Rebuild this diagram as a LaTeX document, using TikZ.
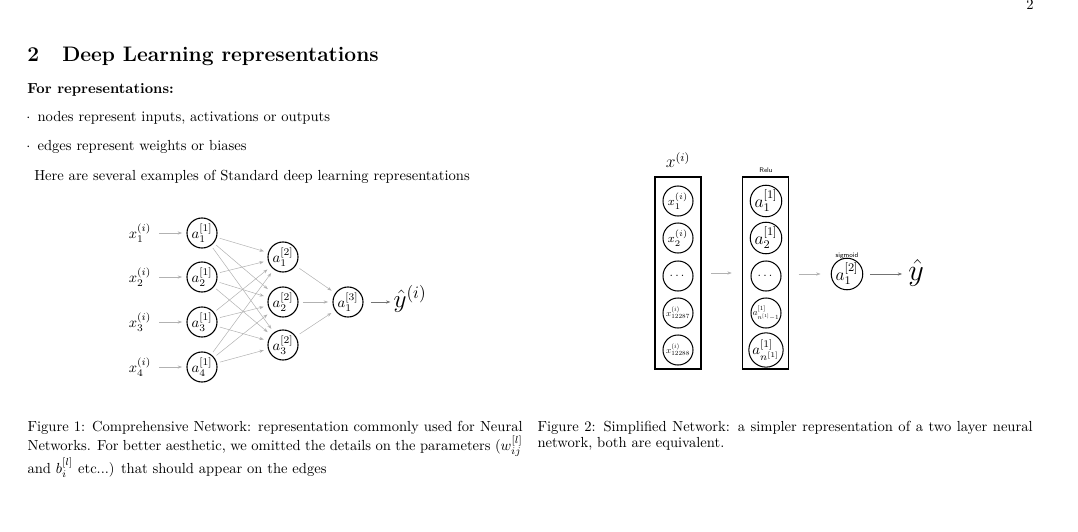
\documentclass[tikz,border=0pt]{standalone}
\usepackage{amsmath}
\usepackage{graphicx}
\usetikzlibrary{arrows.meta}
\begin{document}
\begin{tikzpicture}[x=0.686pt,y=-0.686pt,
  neuron/.style={circle,draw,line width=0.75pt,minimum size=20.6pt,inner sep=0pt,font=\normalsize},
  sneuron/.style={circle,draw,line width=0.7pt,minimum size=20.6pt,inner sep=0pt},
  edge/.style={-{Stealth[length=3pt,width=2.2pt]},draw=gray!60,line width=0.35pt},
  dedge/.style={-{Stealth[length=3pt,width=2.2pt]},draw=gray!90!black,line width=0.4pt},
  layerbox/.style={draw,line width=0.75pt,minimum width=31.6pt,minimum height=131.7pt,inner sep=0pt},
  txt/.style={anchor=base west,inner sep=0pt},
  tinylabel/.style={font=\sffamily\fontsize{4.6}{5}\selectfont,inner sep=0pt},
  caption/.style={anchor=north west,inner sep=0pt,text width=339.6pt,align=justify,font=\fontsize{10}{11}\selectfont}
]
\useasboundingbox (0,0) rectangle (1078,532);

% header text
\node[anchor=base,inner sep=0pt] (pg) at (1030,10) {2};
\node[txt,font=\Large\bfseries] (secnum) at (27,61.7) {2};
\node[txt,font=\Large\bfseries] (sec) at (62,61.7) {Deep Learning representations};
\node[txt,font=\bfseries] (for) at (27,93.3) {For representations:};
\node[txt] (bul1) at (26,121.7) {$\cdot$};
\node[txt] (t1) at (37.3,121.7) {nodes represent inputs, activations or outputs};
\node[txt] (bul2) at (26,150.7) {$\cdot$};
\node[txt] (t2) at (37.3,150.7) {edges represent weights or biases};
\node[txt] (t3) at (34,180) {Here are several examples of Standard deep learning representations};

% left network
\foreach \i/\y in {1/233,2/277,3/322,4/367} {
  \node (x\i) at (140,\y) {$x^{(i)}_{\i}$};
  \node[neuron] (a\i) at (202,\y) {$a^{[1]}_{\i}$};
  \draw[edge,shorten <=2pt,shorten >=3pt] (x\i) -- (a\i);
}
\foreach \j/\y in {1/257,2/302,3/345} {
  \node[neuron] (b\j) at (283,\y) {$a^{[2]}_{\j}$};
}
\foreach \i in {1,...,4} {
  \foreach \j in {1,2,3} {
    \draw[edge,shorten <=2pt,shorten >=3pt] (a\i) -- (b\j);
  }
}
\node[neuron] (c1) at (348,302) {$a^{[3]}_{1}$};
\foreach \j in {1,2,3} {
  \draw[edge,shorten <=3pt,shorten >=3pt] (b\j) -- (c1);
}
\node[inner sep=0pt] (yhat) at (410,299) {\LARGE$\hat{y}^{(i)}$};
\draw[dedge,shorten <=5pt,shorten >=2pt] (c1) -- (yhat.west |- c1.east);

% right network
\node[inner sep=0pt] (xlab) at (678,160) {\large$x^{(i)}$};
\node[layerbox] (box1) at (678,273) {};
\node[layerbox] (box2) at (765.5,273) {};
\node[tinylabel] (relu) at (766,170) {Relu};
\node[sneuron,font=\footnotesize] (r1) at (678,201) {$x^{(i)}_1$};
\node[sneuron,font=\footnotesize] (r2) at (678,238) {$x^{(i)}_2$};
\node[sneuron,font=\footnotesize] (r3) at (678,276) {$\dots$};
\node[sneuron] (r4) at (678,313) {\scalebox{0.62}{$x^{(i)}_{12287}$}};
\node[sneuron] (r5) at (678,350) {\scalebox{0.62}{$x^{(i)}_{12288}$}};
\node[sneuron,font=\large] (s1) at (766,201) {$a^{[1]}_1$};
\node[sneuron,font=\large] (s2) at (766,238) {$a^{[1]}_2$};
\node[sneuron,font=\footnotesize] (s3) at (766,276) {$\dots$};
\node[sneuron] (s4) at (766,313) {\scalebox{0.62}{$a^{[1]}_{n^{[1]}-1}$}};
\node[sneuron,font=\normalsize] (s5) at (766,350) {$a^{[1]}_{n^{[1]}}$};
\draw[edge,shorten <=6.5pt,shorten >=7pt] (box1) -- (box2);
\node[sneuron,font=\large] (sig) at (847,274) {$a^{[2]}_1$};
\node[tinylabel] (sigl) at (847,256) {sigmoid};
\draw[edge,shorten <=6.5pt,shorten >=7pt] (box2.east |- sig.west) -- (sig.west);
\node[inner sep=0pt] (yh2) at (916,273) {\huge$\hat{y}$};
\draw[dedge,shorten <=4.5pt,shorten >=4pt] (sig.east) -- (yh2.west |- sig.east);

% captions
\node[caption] (cap1) at (27.3,420.5) {Figure 1: Comprehensive Network: representation commonly used for Neural Networks. For better aesthetic, we omitted the details on the parameters ($w_{ij}^{[l]}$ and $b_i^{[l]}$ etc...) that should appear on the edges};
\node[caption] (cap2) at (537.3,420.5) {Figure 2: Simplified Network: a simpler representation of a two layer neural network, both are equivalent.};
\end{tikzpicture}
\end{document}
